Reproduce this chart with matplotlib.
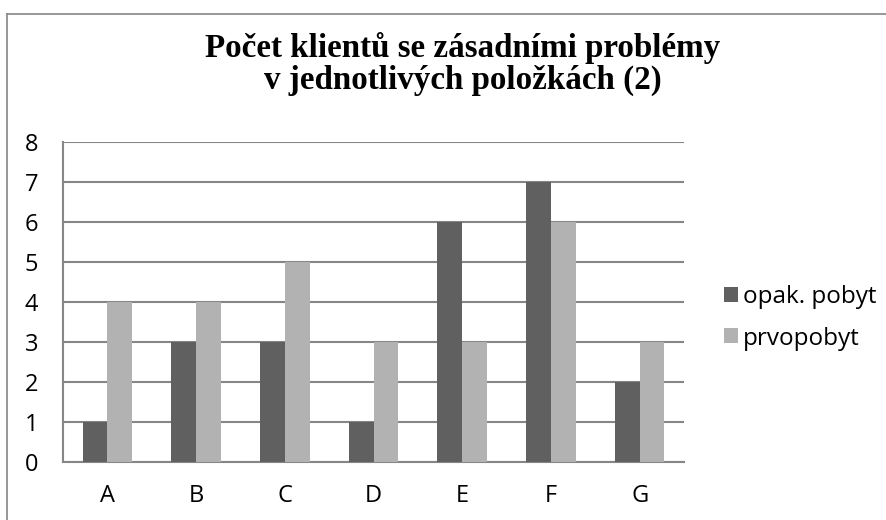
import numpy as np
import matplotlib.pyplot as plt
from matplotlib.lines import Line2D

# data
categories = ['A', 'B', 'C', 'D', 'E', 'F', 'G']
opak_pobyt = [1, 3, 3, 1, 6, 7, 2]
prvopobyt = [4, 4, 5, 3, 3, 6, 3]
series_names = ['opak. pobyt', 'prvopobyt']

dark = '#606060'
light = '#b2b2b2'
grid_col = '#868686'
label_font = ['Open Sans', 'DejaVu Sans']

fig = plt.figure(figsize=(8.86, 5.2), dpi=100)
ax = fig.add_axes([63 / 886, 1 - 462 / 520, 621 / 886, 320 / 520])

x = np.arange(len(categories))
w = 0.28
ax.bar(x - w / 2, opak_pobyt, w, color=dark, label=series_names[0], zorder=3)
ax.bar(x + w / 2, prvopobyt, w, color=light, label=series_names[1], zorder=3)

ax.set_xlim(-0.5, len(categories) - 0.5)
ax.set_ylim(0, 8)
ax.set_yticks(range(0, 9))
ax.set_xticks(x)
ax.set_xticklabels(categories, family=label_font, fontsize=17)
ax.set_yticklabels([str(v) for v in range(0, 9)], family=label_font, fontsize=17)
ax.tick_params(length=0)
ax.tick_params(axis='x', pad=16)
ax.tick_params(axis='y', pad=18)

ax.grid(axis='y', color=grid_col, linewidth=1.5, zorder=0)
for side in ['top', 'right']:
    ax.spines[side].set_visible(False)
for side in ['left', 'bottom']:
    ax.spines[side].set_color(grid_col)
    ax.spines[side].set_linewidth(1.5)

ax.legend(loc='center left', bbox_to_anchor=(724 / 886, 1 - 318 / 520),
          bbox_transform=fig.transFigure, frameon=False, borderaxespad=0,
          borderpad=0, prop={'family': label_font, 'size': 17.5},
          handlelength=0.57, handleheight=0.57, handletextpad=0.2,
          labelspacing=0.7)

fig.text(463 / 886, 1 - 64 / 520,
         'Počet klientů se zásadními problémy\nv jednotlivých položkách (2)',
         ha='center', va='center', family='Liberation Serif', weight='bold',
         fontsize=23.8, linespacing=1.0)

# outer chart border
fig.add_artist(Line2D([7 / 886, 7 / 886], [0, 1 - 14 / 520], color=grid_col, lw=1.2))
fig.add_artist(Line2D([7 / 886, 1], [1 - 14 / 520, 1 - 14 / 520], color=grid_col, lw=1.2))

fig.savefig('out.png', dpi=100)
